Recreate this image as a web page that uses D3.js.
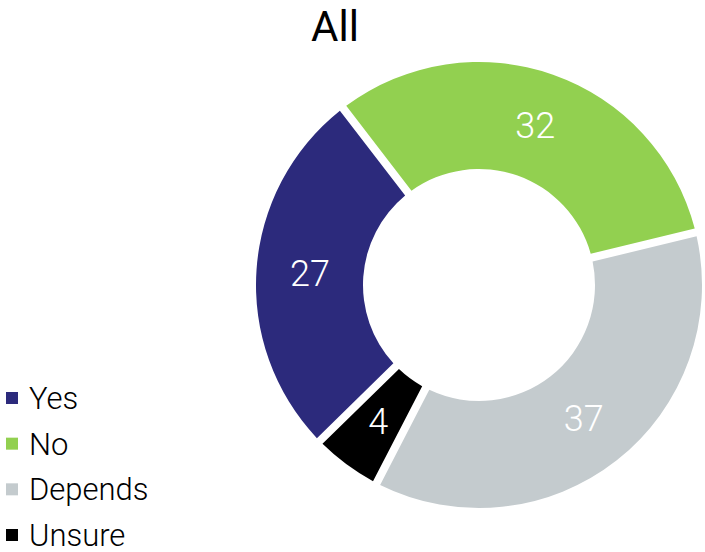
<!DOCTYPE html>
<html>
<head>
<meta charset="utf-8">
<script src="https://cdn.jsdelivr.net/npm/d3@7"></script>
<style>
  html, body { margin: 0; padding: 0; background: #fff; }
  svg { display: block; }
  text { font-family: Roboto, "Open Sans", sans-serif; }
</style>
</head>
<body>
<svg id="chart" width="705" height="552"></svg>
<script>
const title = "All";
const categories = ["Yes", "No", "Depends", "Unsure"];
const values = [27, 32, 37, 4];
const colors = ["#2c2a7c", "#92d050", "#c4cbce", "#000000"];

const W = 705, H = 552;
const cx = 479, cy = 285;
const outerR = 223, innerR = 116;
const startDeg = -134.4;

const svg = d3.select("#chart");

const pie = d3.pie()
  .sort(null)
  .value(d => d.value)
  .startAngle(startDeg * Math.PI / 180)
  .endAngle((startDeg + 360) * Math.PI / 180)
  .padAngle(0.08);

const data = categories.map((c, i) => ({ cat: c, value: values[i], color: colors[i] }));
const arcs = pie(data);

const arc = d3.arc().innerRadius(innerR).outerRadius(outerR).padRadius(100);
const labelArc = d3.arc().innerRadius(innerR).outerRadius(outerR);

const g = svg.append("g").attr("transform", `translate(${cx},${cy})`);

g.selectAll("path.slice")
  .data(arcs)
  .join("path")
  .attr("class", "slice")
  .attr("d", arc)
  .attr("fill", d => d.data.color);

g.selectAll("text.lbl")
  .data(arcs)
  .join("text")
  .attr("class", "lbl")
  .attr("transform", d => `translate(${labelArc.centroid(d)})`)
  .attr("text-anchor", "middle")
  .attr("dy", "0.36em")
  .attr("fill", "#ffffff")
  .style("font-size", "36px")
  .style("font-weight", 300)
  .text(d => d.data.value);

svg.append("text")
  .attr("x", 335)
  .attr("y", 41)
  .attr("text-anchor", "middle")
  .style("font-size", "42px")
  .style("font-weight", 400)
  .attr("fill", "#000")
  .text(title);

const legend = svg.append("g").attr("transform", "translate(6,0)");
const rowY = d3.scalePoint().domain(categories).range([398, 535]);
const items = legend.selectAll("g.item")
  .data(data)
  .join("g")
  .attr("class", "item")
  .attr("transform", d => `translate(0,${rowY(d.cat)})`);
items.append("rect")
  .attr("x", 0).attr("y", -6)
  .attr("width", 12).attr("height", 12)
  .attr("fill", d => d.color);
items.append("text")
  .attr("x", 23)
  .attr("y", 0)
  .attr("dy", "0.35em")
  .style("font-size", "31px")
  .style("font-weight", 300)
  .attr("fill", "#000")
  .text(d => d.cat);
</script>
</body>
</html>
